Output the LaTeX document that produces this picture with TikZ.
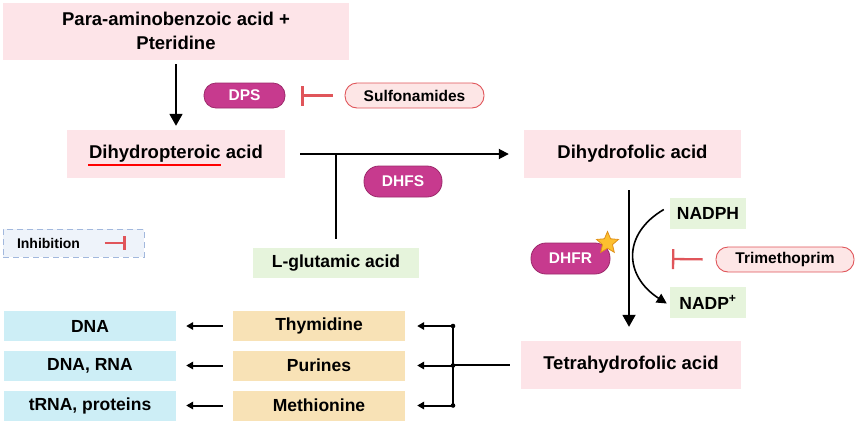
\documentclass[tikz,border=0pt]{standalone}
\usepackage{fontspec}
\setmainfont{Liberation Sans}
\usetikzlibrary{arrows.meta,shapes.geometric}
\definecolor{pinkbg}{HTML}{FDE4E8}
\definecolor{greenbg}{HTML}{E6F4DC}
\definecolor{tanbg}{HTML}{F8E2B6}
\definecolor{bluebg}{HTML}{CDEEF6}
\definecolor{magenta}{HTML}{C73A8E}
\definecolor{magentadk}{HTML}{9C2A6B}
\definecolor{inhred}{HTML}{E0555A}
\definecolor{pillpink}{HTML}{FDE6E6}
\definecolor{legfill}{HTML}{EEF3FA}
\definecolor{legdraw}{HTML}{A2B8DD}
\definecolor{starfill}{HTML}{FDC02F}
\definecolor{stardraw}{HTML}{E0901A}
\tikzset{
  box/.style={inner sep=0pt, font=\bfseries\fontsize{17.5}{20}\selectfont, align=center},
  bigtext/.style={font=\bfseries\fontsize{18.5}{24}\selectfont},
  pinkbox/.style={box, fill=pinkbg},
  greenbox/.style={box, fill=greenbg},
  tanbox/.style={box, fill=tanbg},
  bluebox/.style={box, fill=bluebg},
  enzpill/.style={inner sep=0pt, fill=magenta, draw=magentadk, line width=0.8pt, rounded corners=12pt, text=white, font=\bfseries\fontsize{15.5}{17}\selectfont},
  drugpill/.style={inner sep=0pt, fill=pillpink, draw=inhred, line width=0.9pt, rounded corners=12pt, font=\bfseries\fontsize{15.5}{17}\selectfont},
  arr/.style={line width=1.8pt, -{Triangle[length=12pt,width=13pt]}},
  arrm/.style={line width=1.8pt, -{Triangle[length=10pt,width=10pt]}},
  arrs/.style={line width=2pt, -{Triangle[length=7pt,width=7.5pt]}},
  plain/.style={line width=1.8pt},
  inh/.style={line width=2.3pt, draw=inhred, -{Bar[width=20pt,line width=2.3pt]}},
}
\begin{document}
\begin{tikzpicture}[x=1pt,y=-1pt]
\useasboundingbox (0,0) rectangle (858,424);
\fill[white] (0,0) rectangle (858,424);

% main boxes
\node[pinkbox, bigtext, minimum width=346pt, minimum height=57pt] (para) at (176,31) {Para-aminobenzoic acid +\\Pteridine};
\node[pinkbox, bigtext, minimum width=218pt, minimum height=48pt] (dpa) at (176,154) {Dihydropteroic acid};
\node[pinkbox, bigtext, minimum width=217pt, minimum height=48pt] (dfa) at (632.5,154) {Dihydrofolic acid};
\node[pinkbox, bigtext, minimum width=220pt, minimum height=48pt] (tha) at (631,365) {Tetrahydrofolic acid};
\node[greenbox, minimum width=76pt, minimum height=31pt] (nadph) at (708,213.5) {NADPH};
\node[greenbox, minimum width=76pt, minimum height=31pt] (nadp) at (708,302.5) {NADP\textsuperscript{+}};
\node[greenbox, minimum width=166pt, minimum height=30pt] (glu) at (336,263) {L-glutamic acid};

\node[tanbox, minimum width=172pt, minimum height=30pt] (thy) at (319,326) {Thymidine};
\node[tanbox, minimum width=172pt, minimum height=30pt] (pur) at (319,365.5) {Purines};
\node[tanbox, minimum width=172pt, minimum height=30pt] (met) at (319,405.5) {Methionine};
\node[bluebox, minimum width=172pt, minimum height=30pt] (dna) at (90,326) {DNA};
\node[bluebox, minimum width=172pt, minimum height=30pt] (dnarna) at (90,365.5) {DNA, RNA};
\node[bluebox, minimum width=172pt, minimum height=30pt] (trna) at (90,405.5) {tRNA, proteins};

% enzymes and drugs
\node[enzpill, minimum width=81pt, minimum height=25pt] (dps) at (244.5,95.5) {DPS};
\node[drugpill, minimum width=139pt, minimum height=25pt] (sulf) at (414.5,95.5) {Sulfonamides};
\node[enzpill, minimum width=78pt, minimum height=31pt, rounded corners=15pt] (dhfs) at (403,181.5) {DHFS};
\node[enzpill, minimum width=79pt, minimum height=31pt, rounded corners=15pt] (dhfr) at (570.5,258.5) {DHFR};
\node[star, star points=5, star point ratio=2.2, minimum size=23pt, inner sep=0pt, fill=starfill, draw=stardraw, line width=0.8pt] (star) at (607.5,243) {};
\node[drugpill, minimum width=138pt, minimum height=25pt] (trim) at (785,259.5) {Trimethoprim};

% legend
\node[inner sep=0pt, fill=legfill, draw=legdraw, dashed, dash pattern=on 6pt off 4pt, line width=1pt, minimum width=141pt, minimum height=28pt] (leg) at (73.5,243) {};
\node[inner sep=0pt, font=\bfseries\fontsize{14}{16}\selectfont] (legtxt) at (48.5,243) {Inhibition};
\draw[inh, -{Bar[width=14pt,line width=2.3pt]}] ([xshift=-40pt]leg.east) -- ([xshift=-19pt]leg.east);

% red underline
\draw[red, line width=1.4pt] (88,165) -- (221,165);

% connectors
\draw[arr, shorten <=4.5pt, shorten >=4pt] (para.south) -- (dpa.north);
\draw[inh, shorten <=12pt, shorten >=16pt] (sulf.west) -- (dps.east);
\draw[arrm, shorten <=15pt, shorten >=15pt] (dpa.east) -- (dfa.west);
\coordinate (j1) at (336,154);
\draw[plain, shorten <=9pt] (glu.north) -- (j1);
\draw[arr, shorten <=12pt, shorten >=14pt] ([xshift=-3.5pt]dfa.south) -- ([xshift=-2pt]tha.north);
\draw[arrm, line width=1.6pt] ([xshift=-6pt,yshift=4pt]nadph.west) .. controls (622,234) and (624,276) .. ([xshift=-3pt,yshift=-1pt]nadp.west);
\coordinate (tbar) at (672,259);
\draw[inh, shorten <=13pt] (trim.west) -- (tbar);

\coordinate (jt) at (453,365);
\draw[plain, shorten <=11pt] (tha.west) -- (jt);
\draw[plain] (thy.east -| jt) -- (met.east -| jt);
\foreach \n in {thy,pur,met}{
  \fill (\n.east -| jt) circle (2.3pt);
  \draw[arrs, shorten >=12pt] (\n.east -| jt) -- (\n.east);
}
\draw[arrs, shorten <=10pt, shorten >=10pt] (thy.west) -- (dna.east);
\draw[arrs, shorten <=10pt, shorten >=10pt] (pur.west) -- (dnarna.east);
\draw[arrs, shorten <=10pt, shorten >=10pt] (met.west) -- (trna.east);
\end{tikzpicture}
\end{document}
